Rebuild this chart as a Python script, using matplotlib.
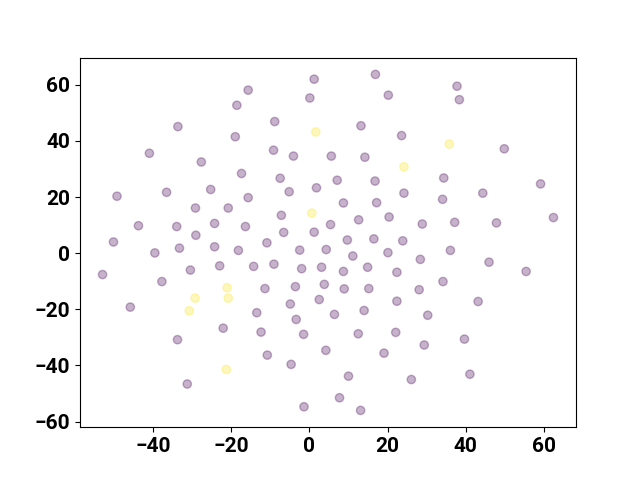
import numpy as np
import matplotlib
matplotlib.use("Agg")
import matplotlib.pyplot as plt

plt.rcParams["font.family"] = ["Roboto", "DejaVu Sans"]
plt.rcParams["font.weight"] = "bold"

# purple points (label 0)
x0 = [-15.7, -18.6, -33.7, -19.0, -41.0, -27.7, -17.4,
      1.2, 16.9, 0.1, 20.2, -8.9, 13.2, 23.6, -9.2, -4.1, 5.6, 14.2,
      -7.5, 7.1, 16.8,
      37.8, 38.4, 49.9, 34.4, 59.2,
      -49.3, -36.6, -25.3, -15.7, -29.2, -20.8, -43.8, -34.0, -24.3, -16.4,
      -29.1, -50.2, -39.6, -33.3, -24.3, -18.2, -53.0, -30.5, -23.0, -37.8,
      -45.9,
      -5.2, 1.8, 24.2, 8.7, 17.2, -7.2, 5.4, 12.6, 20.4, -6.6, 1.2, -10.9,
      9.7, 16.5, 23.9, -2.5, 4.3, 11.1, 20.1, -14.3, -9.1, -2.0, 3.1, 8.7,
      14.9, 22.4, -11.4, -3.6, 3.8, 8.9, 15.2, 22.4,
      34.1, 44.4, 28.9, 37.2, 47.9, 62.5, 36.1, 28.4, 46.0, 55.5, 34.2,
      28.1, 43.2,
      -22.1, -33.8, -31.3,
      -4.9, 2.5, -13.5, -3.4, 6.4, 14.0, -12.4, -1.5, 12.5, 22.1, -10.8,
      4.2, 19.1, -4.7, 10.0, 26.1, 7.7, -1.4, 13.1,
      30.3, 39.7, 29.4, 41.1]
y0 = [58.1, 52.7, 45.1, 41.5, 35.6, 32.5, 28.4,
      62.0, 63.7, 55.3, 56.3, 46.9, 45.4, 41.9, 36.7, 34.6, 34.6, 34.2,
      26.7, 26.0, 25.7,
      59.5, 54.7, 37.2, 26.8, 24.7,
      20.3, 21.7, 22.7, 19.8, 16.1, 16.1, 9.8, 9.5, 10.6, 9.5,
      6.4, 4.0, 0.1, 1.8, 2.3, 1.0, -7.6, -6.0, -4.5, -10.1,
      -19.2,
      21.9, 23.3, 21.4, 17.9, 18.0, 13.5, 10.2, 11.9, 12.9, 7.4, 7.5, 3.7,
      4.7, 5.1, 4.4, 1.1, 1.3, -1.0, 0.2, -4.7, -3.9, -5.5, -5.0, -6.5,
      -5.0, -6.8, -12.6, -11.9, -11.1, -12.7, -12.6, -17.1,
      19.2, 21.4, 10.4, 11.0, 10.8, 12.7, 1.0, -2.2, -3.2, -6.5, -10.1,
      -13.0, -17.2,
      -26.7, -30.8, -46.6,
      -18.1, -16.5, -21.2, -23.6, -21.8, -20.4, -28.1, -28.9, -28.7, -28.2, -36.3,
      -34.6, -35.6, -39.6, -43.8, -45.0, -51.5, -54.7, -56.0,
      -22.1, -30.6, -32.7, -43.1]

# yellow points (label 1)
x1 = [1.6, 24.2, 35.8, 0.6, -21.1, -29.3, -20.8, -30.8, -21.3]
y1 = [43.2, 30.8, 38.9, 14.3, -12.3, -16.0, -16.0, -20.5, -41.4]

x = np.array(x0 + x1)
y = np.array(y0 + y1)
labels = np.array([0] * len(x0) + [1] * len(x1))

fig, ax = plt.subplots(figsize=(6.4, 4.8), dpi=100)
ax.scatter(x, y, c=labels, cmap="viridis", alpha=0.3)
ax.tick_params(labelsize=15)

plt.savefig("out.png")
